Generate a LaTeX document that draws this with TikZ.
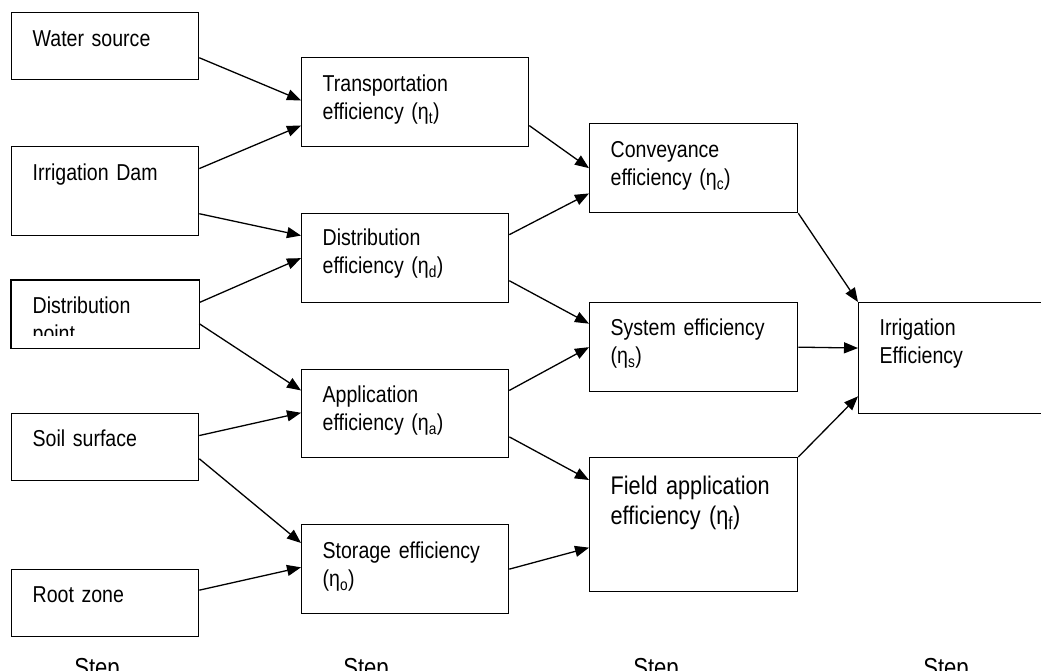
\documentclass[tikz,border=0pt]{standalone}
\usepackage{fontspec}
\setmainfont{Liberation Sans}[FakeStretch=0.85]
\usetikzlibrary{arrows.meta,calc}
\newcommand\boxfont{\fontsize{23}{27.7}\selectfont\fontdimen2\font=5.4pt}
\newcommand\fieldfont{\fontsize{25.5}{30}\selectfont\fontdimen2\font=6pt}
\tikzset{
  stepbox/.style={draw, line width=1.3pt, anchor=north west, align=left,
                  inner xsep=21pt, inner ysep=0pt, text height=34pt,
                  font=\boxfont},
  steparrow/.style={-{Triangle[length=14pt, width=11pt]}, line width=1.3pt},
  steplabel/.style={anchor=base, font=\fontsize{26}{30}\selectfont},
}
\begin{document}
\begin{tikzpicture}[x=1pt, y=-1pt]
  \useasboundingbox (0,0) rectangle (1041,671);
  % step 1
  \node[stepbox, text width=145pt, text depth=33pt] (water) at (11,12) {Water source};
  \node[stepbox, text width=145pt, text depth=55pt] (dam) at (11,146) {Irrigation Dam};
  \begin{scope}
    \clip (0,280) rectangle (220,335);
    \node[stepbox, draw=none, text width=145pt, text height=33pt, text depth=34pt] (distpt) at (11,280) {Distribution\\point};
  \end{scope}
  \draw[line width=1.3pt] (distpt.north west) rectangle (distpt.south east);
  \node[stepbox, text width=145pt, text height=33pt, text depth=34pt] (soil) at (11,413) {Soil surface};
  \node[stepbox, text width=145pt, text height=33pt, text depth=34pt] (root) at (11,569) {Root zone};
  % step 2
  \node[stepbox, text width=185pt, text depth=55pt] (trans) at (301,57) {Transportation\\efficiency (η\textsubscript{t})};
  \node[stepbox, text width=165pt, text height=32pt, text depth=57pt] (distr) at (301,213) {Distribution\\efficiency (η\textsubscript{d})};
  \node[stepbox, text width=165pt, text height=33pt, text depth=55pt] (appl) at (301,369) {Application\\efficiency (η\textsubscript{a})};
  \node[stepbox, text width=165pt, text depth=55pt] (stor) at (301,524) {Storage efficiency\\(η\textsubscript{o})};
  % step 3
  \node[stepbox, text width=166pt, text depth=55pt] (conv) at (589,123) {Conveyance\\efficiency (η\textsubscript{c})};
  \node[stepbox, text width=166pt, text height=33pt, text depth=56pt] (sys) at (589,302) {System efficiency\\(η\textsubscript{s})};
  \node[stepbox, text width=166pt, text height=37pt, text depth=97pt, font=\fieldfont] (field) at (589,457) {Field application\\efficiency (η\textsubscript{f})};
  % step 4
  \node[stepbox, text width=170pt, text height=33pt, text depth=78pt] (irr) at (858,302) {Irrigation\\Efficiency};
  % arrows step 1 -> step 2
  \draw[steparrow] ($(water.north east)!0.67!(water.south east)$) -- ($(trans.north west)!0.48!(trans.south west)$);
  \draw[steparrow] ($(dam.north east)!0.25!(dam.south east)$) -- ($(trans.north west)!0.76!(trans.south west)$);
  \draw[steparrow] ($(dam.north east)!0.75!(dam.south east)$) -- ($(distr.north west)!0.25!(distr.south west)$);
  \draw[steparrow] ($(distpt.north east)!0.33!(distpt.south east)$) -- ($(distr.north west)!0.5!(distr.south west)$);
  \draw[steparrow] ($(distpt.north east)!0.64!(distpt.south east)$) -- ($(appl.north west)!0.24!(appl.south west)$);
  \draw[steparrow] ($(soil.north east)!0.33!(soil.south east)$) -- ($(appl.north west)!0.49!(appl.south west)$);
  \draw[steparrow] ($(soil.north east)!0.67!(soil.south east)$) -- ($(stor.north west)!0.21!(stor.south west)$);
  \draw[steparrow] ($(root.north east)!0.31!(root.south east)$) -- ($(stor.north west)!0.48!(stor.south west)$);
  % arrows step 2 -> step 3
  \draw[steparrow] ($(trans.north east)!0.76!(trans.south east)$) -- ($(conv.north west)!0.5!(conv.south west)$);
  \draw[steparrow] ($(distr.north east)!0.24!(distr.south east)$) -- ($(conv.north west)!0.78!(conv.south west)$);
  \draw[steparrow] ($(distr.north east)!0.75!(distr.south east)$) -- ($(sys.north west)!0.24!(sys.south west)$);
  \draw[steparrow] ($(appl.north east)!0.24!(appl.south east)$) -- ($(sys.north west)!0.5!(sys.south west)$);
  \draw[steparrow] ($(appl.north east)!0.76!(appl.south east)$) -- ($(field.north west)!0.17!(field.south west)$);
  \draw[steparrow] ($(stor.north east)!0.5!(stor.south east)$) -- ($(field.north west)!0.67!(field.south west)$);
  % arrows step 3 -> step 4
  \draw[steparrow] (conv.south east) -- (irr.north west);
  \draw[steparrow] ($(sys.north east)!0.5!(sys.south east)$) -- ($(irr.north west)!0.41!(irr.south west)$);
  \draw[steparrow] (field.north east) -- ($(irr.north west)!0.84!(irr.south west)$);
  % step labels
  \node[steplabel] (stepA) at (97,676) {Step};
  \node[steplabel] (stepB) at (366,676) {Step};
  \node[steplabel] (stepC) at (656,676) {Step};
  \node[steplabel] (stepD) at (946,676) {Step};
\end{tikzpicture}
\end{document}
